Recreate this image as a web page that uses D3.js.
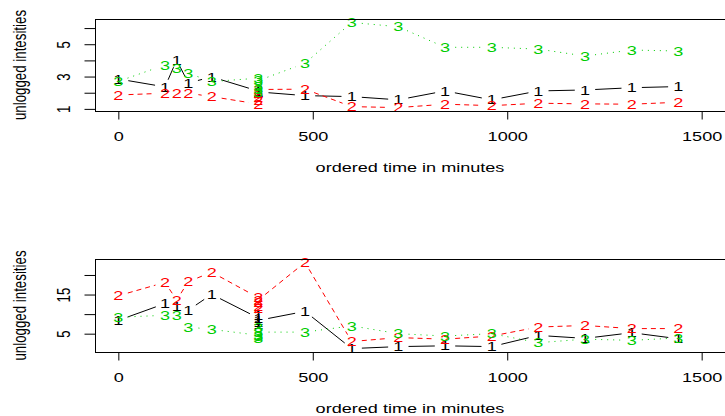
<!DOCTYPE html>
<html>
<head>
<meta charset="utf-8">
<script src="https://cdn.jsdelivr.net/npm/d3@7"></script>
<style>
  body { margin: 0; background: #fff; }
  svg text { font-family: "Liberation Sans", Arial, Helvetica, sans-serif; font-size: 13.3px; }
</style>
</head>
<body>
<svg id="chart" width="725" height="416"></svg>
<script>
// time points (minutes); five replicates at 360
const times = [0, 120, 150, 180, 240, 360, 360, 360, 360, 360, 480, 600, 720, 840, 960, 1080, 1200, 1320, 1440];

// upper panel
const topOne   = [2.85, 2.36, 4.02, 2.6, 2.98, 2.1, 2.0, 1.95, 2.05, 2.05, 1.82, 1.76, 1.56, 2.11, 1.56, 2.11, 2.17, 2.31, 2.38];
const topTwo   = [1.86, 1.97, 1.97, 1.97, 1.76, 1.3, 1.5, 1.7, 1.95, 2.2, 2.22, 1.14, 1.08, 1.29, 1.2, 1.35, 1.31, 1.29, 1.41];
const topThree = [2.7, 3.72, 3.51, 3.2, 2.69, 2.9, 2.2, 2.0, 2.4, 2.75, 3.82, 6.35, 6.08, 4.81, 4.81, 4.7, 4.27, 4.64, 4.58];

// lower panel
const bottomOne   = [8.4, 12.7, 11.9, 11.0, 15.05, 9.0, 7.5, 8.0, 9.6, 8.4, 10.7, 1.2, 1.7, 1.9, 1.7, 4.56, 3.8, 5.25, 3.7];
const bottomTwo   = [14.7, 18.1, 13.6, 18.3, 20.7, 14.2, 12.0, 11.5, 13.0, 13.6, 23.2, 3.0, 4.0, 3.6, 4.4, 6.7, 7.1, 6.3, 6.3];
const bottomThree = [9.2, 9.7, 9.7, 6.7, 6.1, 4.6, 3.8, 4.2, 6.5, 5.4, 5.4, 7.0, 5.0, 4.4, 5.0, 2.7, 3.6, 3.3, 3.9];

const xLimits = [0, 1500];
const xTicks = [0, 500, 1000, 1500];
const topTicks = [1, 2, 3, 4, 5, 6];
const topTickLabels = [1, 3, 5];
const bottomTicks = [5, 10, 15, 20];
const bottomTickLabels = [5, 15];
const seriesSymbols = ['1', '2', '3'];
const xTitle = 'ordered time in minutes';
const yTitle = 'unlogged intesities';

const colors = ['#000000', '#FF0000', '#00CD00'];
const dashes = [null, '5,4', '1,5'];

const svg = d3.select('#chart');
const sx = 1.36;   // the picture is stretched sideways
const gap = 7.5;   // type = "b" gap round each symbol

// R pads the data range by 4% on both sides
function rExtend([lo, hi]) {
  const d = (hi - lo) * 0.04;
  return [lo - d, hi + d];
}

function stretchedText(g, x, y, str, rotate) {
  return g.append('text')
    .attr('transform', `translate(${x},${y}) scale(${sx},1)` + (rotate ? ' rotate(-90)' : ''))
    .attr('text-anchor', 'middle')
    .attr('dy', '0.35em')
    .text(str);
}

function drawPanel(top, bottom, series, yTicks, yLabels) {
  const left = 95, right = 725;
  const x = d3.scaleLinear().domain(rExtend(xLimits)).range([left, right]);
  const y = d3.scaleLinear().domain(rExtend(d3.extent(series.flat()))).range([bottom, top]);
  const g = svg.append('g');

  // each series: line pieces first, then the number symbols
  series.forEach((vals, i) => {
    const pts = vals.map((v, j) => [x(times[j]), y(v)]);
    const segs = [];
    for (let j = 1; j < pts.length; j++) {
      const [x0, y0] = pts[j - 1], [x1, y1] = pts[j];
      const len = Math.hypot((x1 - x0) / sx, y1 - y0);
      if (len <= 2 * gap) continue;
      const f = gap / len;
      segs.push([x0 + (x1 - x0) * f, y0 + (y1 - y0) * f, x1 - (x1 - x0) * f, y1 - (y1 - y0) * f]);
    }
    g.append('g').selectAll('line')
      .data(segs)
      .join('line')
        .attr('x1', d => d[0]).attr('y1', d => d[1])
        .attr('x2', d => d[2]).attr('y2', d => d[3])
        .attr('stroke', colors[i])
        .attr('stroke-width', 1)
        .attr('stroke-dasharray', dashes[i]);

    const sym = g.append('g').attr('fill', colors[i]);
    pts.forEach(p => stretchedText(sym, p[0], p[1], seriesSymbols[i], false));
  });

  // box
  g.append('rect')
    .attr('x', left + 0.5).attr('y', top + 0.5)
    .attr('width', right - left).attr('height', bottom - top)
    .attr('fill', 'none').attr('stroke', '#000');

  // x axis
  const xa = g.append('g')
    .attr('transform', `translate(0,${bottom + 0.5})`)
    .call(d3.axisBottom(x).tickValues(xTicks).tickSize(8).tickSizeOuter(0)
      .tickFormat(d3.format('d')));
  xa.attr('font-size', null).attr('font-family', null);
  xa.select('.domain').remove();
  xa.append('line')
    .attr('x1', x(xTicks[0])).attr('x2', x(xTicks[xTicks.length - 1]))
    .attr('stroke', '#000');
  xa.selectAll('text')
    .attr('y', 24.5).attr('dy', '0.35em')
    .attr('transform', `scale(${sx},1)`)
    .attr('fill', '#000');

  // y axis
  const ya = g.append('g')
    .attr('transform', `translate(${left + 0.5},0)`)
    .call(d3.axisLeft(y).tickValues(yTicks).tickSize(11).tickSizeOuter(0)
      .tickFormat(d => yLabels.includes(d) ? d : ''));
  ya.attr('font-size', null).attr('font-family', null);
  ya.select('.domain').remove();
  ya.append('line')
    .attr('y1', y(yTicks[0])).attr('y2', y(yTicks[yTicks.length - 1]))
    .attr('stroke', '#000');
  ya.selectAll('text')
    .attr('x', null).attr('dy', '0.35em')
    .attr('text-anchor', 'middle')
    .attr('transform', `translate(-32,0) scale(${sx},1) rotate(-90)`)
    .attr('fill', '#000');

  // titles
  stretchedText(g, (left + right) / 2, bottom + 56.5, xTitle, false);
  stretchedText(g, 20, (top + bottom) / 2, yTitle, true);
}

drawPanel(19, 111, [topOne, topTwo, topThree], topTicks, topTickLabels);
drawPanel(259, 352, [bottomOne, bottomTwo, bottomThree], bottomTicks, bottomTickLabels);
</script>
</body>
</html>
